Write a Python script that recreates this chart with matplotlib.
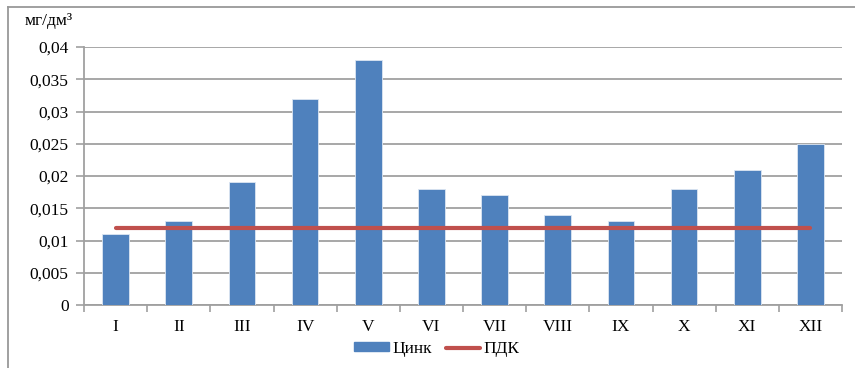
import matplotlib
matplotlib.use("Agg")
import matplotlib.pyplot as plt
from matplotlib.lines import Line2D
from matplotlib.patches import Patch
import numpy as np

months = ["I", "II", "III", "IV", "V", "VI", "VII", "VIII", "IX", "X", "XI", "XII"]
zinc = [0.011, 0.013, 0.019, 0.032, 0.038, 0.018, 0.017, 0.014, 0.013, 0.018, 0.021, 0.025]
pdk = [0.012] * 12
yticks = [0, 0.005, 0.01, 0.015, 0.02, 0.025, 0.03, 0.035, 0.04]
ytick_labels = ["0", "0,005", "0,01", "0,015", "0,02", "0,025", "0,03", "0,035", "0,04"]

plt.rcParams['font.family'] = ['Liberation Serif', 'DejaVu Serif']
plt.rcParams['font.size'] = 12.5

BAR = "#4F81BD"
RED = "#C0504D"
GRID = "#A0A0A0"

fig = plt.figure(figsize=(8.55, 3.68), dpi=100)
ax = fig.add_axes([84 / 855, 1 - 305 / 368, (842 - 84) / 855, (305 - 47) / 368])

x = np.arange(len(months))
ax.bar(x, zinc, width=0.42, color=BAR, edgecolor="#DCE6F2", linewidth=0.6, zorder=3)
ax.plot(x, pdk, color=RED, linewidth=3.0, solid_capstyle="round", zorder=4)

ax.set_xlim(-0.5, len(months) - 0.5)
ax.set_ylim(0, 0.04)
ax.set_yticks(yticks)
ax.set_yticklabels(ytick_labels)
ax.yaxis.grid(True, color=GRID, linewidth=1.3, zorder=0)
ax.set_axisbelow(True)

ax.set_xticks(np.arange(-0.5, len(months)), labels=[""] * (len(months) + 1))
ax.set_xticks(x, labels=months, minor=True)
ax.tick_params(axis="x", which="major", length=5, color=GRID, width=1.2, direction="out")
ax.tick_params(axis="x", which="minor", length=0, pad=10)
ax.tick_params(axis="y", length=6, color=GRID, width=1.2, direction="out", pad=5)

for side in ("top", "right"):
    ax.spines[side].set_visible(False)
for side in ("left", "bottom"):
    ax.spines[side].set_color(GRID)
    ax.spines[side].set_linewidth(1.3)

fig.text(25 / 855, 1 - 21 / 368, "мг/дм³", ha="left", va="center", fontsize=12.5)

handles = [Patch(facecolor=BAR, edgecolor=BAR),
           Line2D([0], [0], color=RED, linewidth=3.0, solid_capstyle="round")]
fig.legend(handles, ["Цинк", "ПДК"], loc="center", bbox_to_anchor=(437 / 855, 1 - 349 / 368),
           ncol=2, frameon=False, handlelength=2.0, handleheight=0.45, columnspacing=0.8,
           handletextpad=0.2, fontsize=12.5)

# outer chart frame
fig.add_artist(Line2D([8 / 855, 8 / 855], [0, 1 - 7 / 368], color="#999999", linewidth=1.3,
                      transform=fig.transFigure))
fig.add_artist(Line2D([8 / 855, 1], [1 - 7 / 368, 1 - 7 / 368], color="#999999", linewidth=1.3,
                      transform=fig.transFigure))

fig.savefig("out.png", dpi=100, facecolor="white")
